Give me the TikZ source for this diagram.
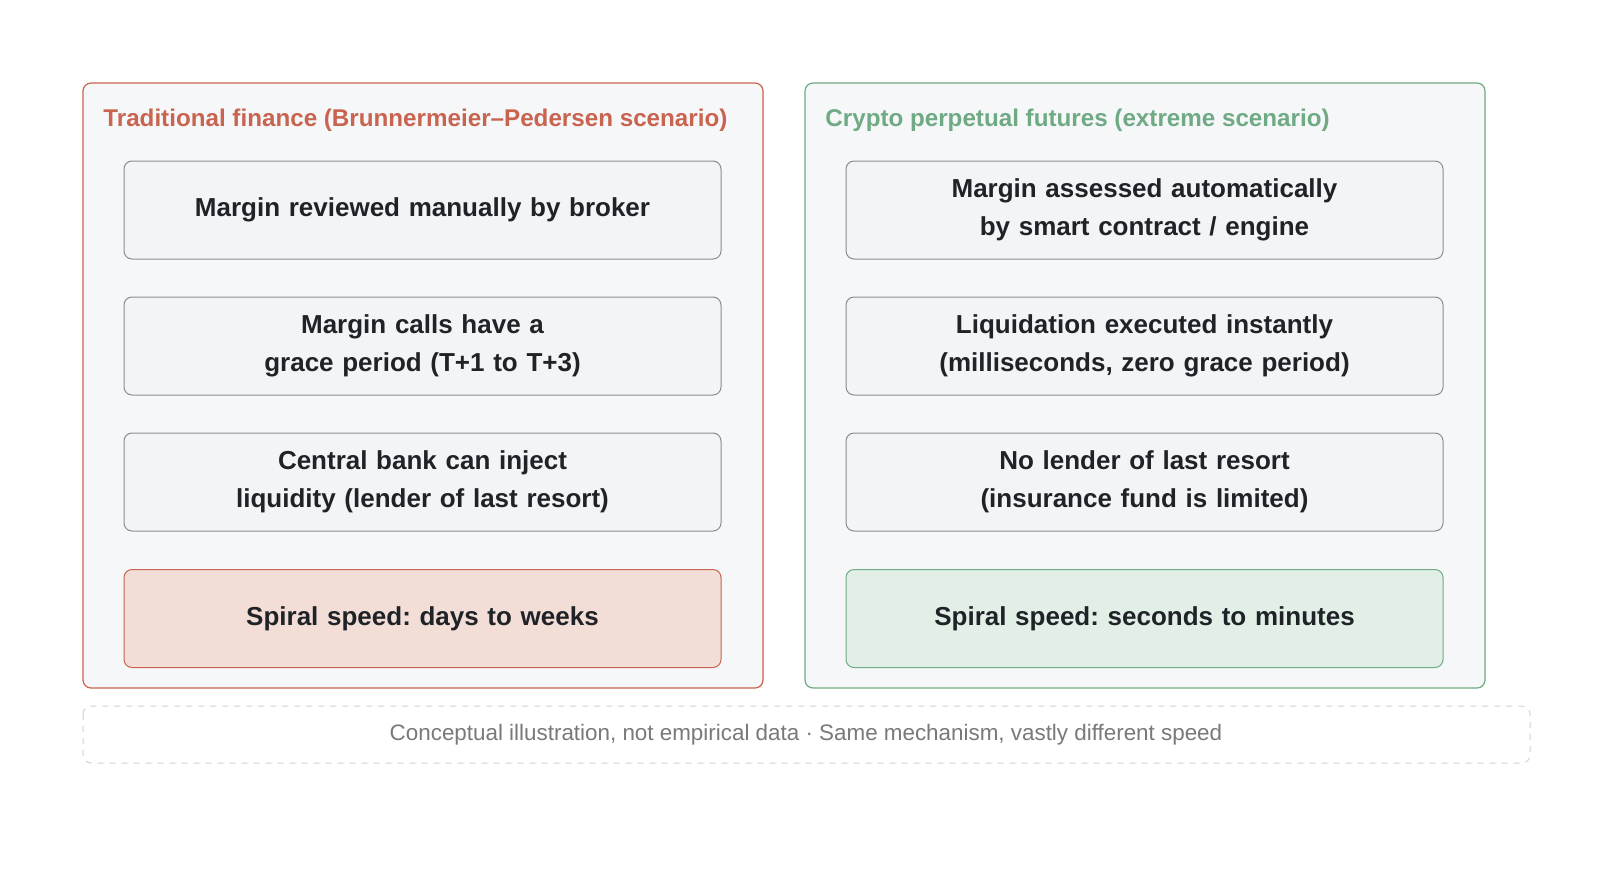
\documentclass[tikz,border=0pt]{standalone}
\usepackage{fontspec}
\setmainfont{Liberation Sans}
\usetikzlibrary{positioning}
\definecolor{tradred}{HTML}{C8644F}
\definecolor{tradfill}{HTML}{F3DDD7}
\definecolor{cryptogreen}{HTML}{6FAA84}
\definecolor{cryptofill}{HTML}{E2EFE7}
\definecolor{panelfill}{HTML}{F6F7F9}
\definecolor{boxfill}{HTML}{F3F4F6}
\definecolor{boxline}{HTML}{8A8D91}
\definecolor{inktext}{HTML}{1F2328}
\hyphenpenalty=10000
\frenchspacing
\begin{document}
\begin{tikzpicture}[x=0.5pt,y=-0.5pt]
  \tikzset{panel/.style = {draw,rounded corners=4pt,fill=panelfill,line width=0.6pt}}
  \tikzset{factbox/.style = {draw=boxline,fill=boxfill,rounded corners=4pt,line width=0.5pt,
      minimum width=298.5pt,minimum height=49pt,text width=266pt,align=center,
      font=\fontsize{13}{19}\selectfont\bfseries,text=inktext,inner sep=0pt}}
  \tikzset{heading/.style = {anchor=west,font=\fontsize{12.1}{14}\selectfont\bfseries,inner sep=0pt}}

  \useasboundingbox[fill=white] (0,0) rectangle (1600,884);

  % panels
  \draw[panel,draw=tradred] (83,83) rectangle (763,688);
  \draw[panel,draw=cryptogreen] (805,83) rectangle (1485,688);
  \node[heading,text=tradred] (tradhead) at (103,120) {Traditional finance (Brunnermeier–Pedersen scenario)};
  \node[heading,text=cryptogreen] (cryptohead) at (825,120) {Crypto perpetual futures (extreme scenario)};

  % left column
  \node[factbox] (T1) at (422.5,210) {Margin reviewed manually by broker};
  \node[factbox] (T2) at (422.5,346) {Margin calls have a grace period (T+1 to T+3)};
  \node[factbox] (T3) at (422.5,482) {Central bank can inject liquidity (lender of last resort)};
  \node[factbox,draw=tradred,fill=tradfill] (T4) at (422.5,618.5) {Spiral speed: days to weeks};

  % right column
  \node[factbox] (C1) at (1144.5,210) {Margin assessed automatically by smart contract / engine};
  \node[factbox] (C2) at (1144.5,346) {Liquidation executed instantly (milliseconds, zero grace period)};
  \node[factbox] (C3) at (1144.5,482) {No lender of last resort (insurance fund is limited)};
  \node[factbox,draw=cryptogreen,fill=cryptofill] (C4) at (1144.5,618.5) {Spiral speed: seconds to minutes};

  % footer
  \draw[dashed,draw=gray!35,rounded corners=4pt,line width=0.5pt] (83,706) rectangle (1530,763);
  \node[font=\fontsize{11.2}{13}\selectfont,text=gray!95!black,inner sep=0pt] (note) at (806,734.5)
    {Conceptual illustration, not empirical data · Same mechanism, vastly different speed};
\end{tikzpicture}
\end{document}
